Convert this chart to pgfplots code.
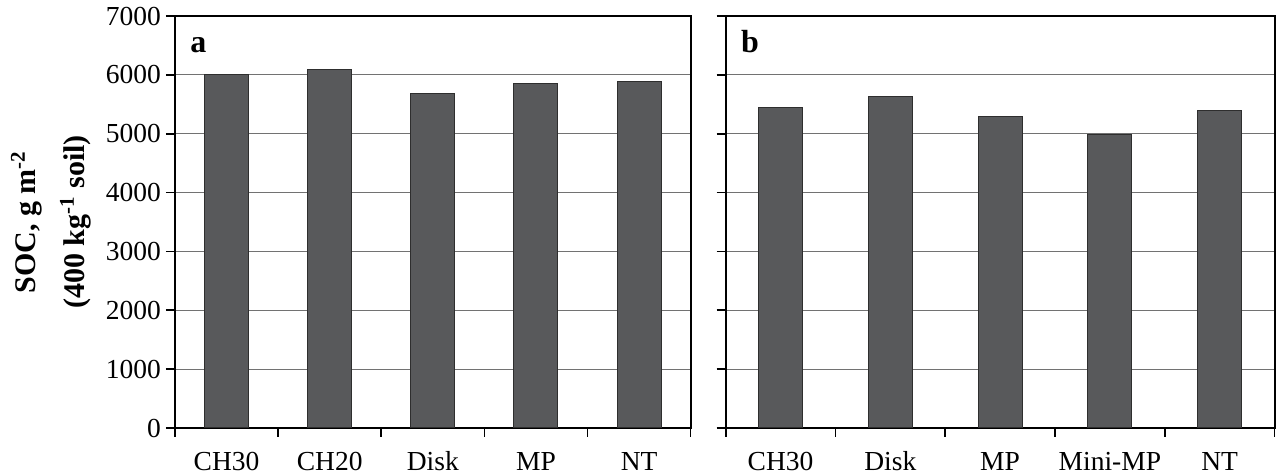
\documentclass[border=0pt]{standalone}
\usepackage{pgfplots}
\pgfplotsset{compat=1.18}
\usepackage{fontspec}
\setmainfont{Liberation Serif}
\definecolor{barfill}{HTML}{58595B}
\definecolor{baredge}{HTML}{2E2E2E}
\definecolor{gridc}{HTML}{727272}
\begin{document}
\begin{tikzpicture}
\useasboundingbox (0,0) rectangle (638pt,237.5pt);
\pgfplotsset{
  soc/.style={
    scale only axis, anchor=south west,
    height=206pt,
    ymin=0, ymax=7000, ytick={0,1000,...,7000},
    xmin=-0.5, xmax=4.5,
    xtick={0,...,4},
    minor xtick={-0.5,0.5,...,4.5},
    major x tick style={draw=none},
    tick align=outside,
    xtick pos=bottom, ytick pos=left,
    major tick length=4.5pt, minor tick length=4.5pt,
    tick style={black, line width=0.8pt},
    ymajorgrids, major grid style={gridc, line width=0.6pt},
    axis line style={black, line width=1pt},
    ybar, bar width=22pt,
    /pgf/number format/assume math mode=true,
    /pgf/number format/1000 sep={},
    scaled y ticks=false,
    tick label style={font=\fontsize{13.75}{16}\selectfont},
    yticklabel style={xshift=1pt},
    xticklabel style={text height=9.5pt, text depth=3pt, yshift=-3.6pt},
  }
}
\begin{axis}[soc, at={(87.5pt,23.5pt)}, width=257.85pt,
  xticklabels={CH30,CH20,Disk,MP,NT},
  ylabel={SOC, g m\textsuperscript{-2}\\(400 kg\textsuperscript{-1} soil)},
  ylabel style={align=center, font=\bfseries\fontsize{15}{24.5}\selectfont,
    at={(axis description cs:0,0.5)}, anchor=south, rotate=0, yshift=38.5pt},
]
\addplot[fill=barfill, draw=baredge, line width=0.5pt] coordinates {(0,6010) (1,6090) (2,5690) (3,5860) (4,5893)};
\node[anchor=base west, font=\bfseries\fontsize{16}{16}\selectfont, inner sep=0pt] at (axis description cs:0,1) [xshift=7.5pt, yshift=-18.5pt] {a};
\end{axis}
\begin{axis}[soc, at={(362.85pt,23.5pt)}, width=274.4pt,
  xticklabels={CH30,Disk,MP,Mini-MP,NT},
  yticklabels={},
  major y tick style={black, line width=0.8pt},
]
\addplot[fill=barfill, draw=baredge, line width=0.5pt] coordinates {(0,5450) (1,5629) (2,5299) (3,4990) (4,5393)};
\node[anchor=base west, font=\bfseries\fontsize{16}{16}\selectfont, inner sep=0pt] at (axis description cs:0,1) [xshift=7.5pt, yshift=-18.5pt] {b};
\end{axis}
\end{tikzpicture}
\end{document}
